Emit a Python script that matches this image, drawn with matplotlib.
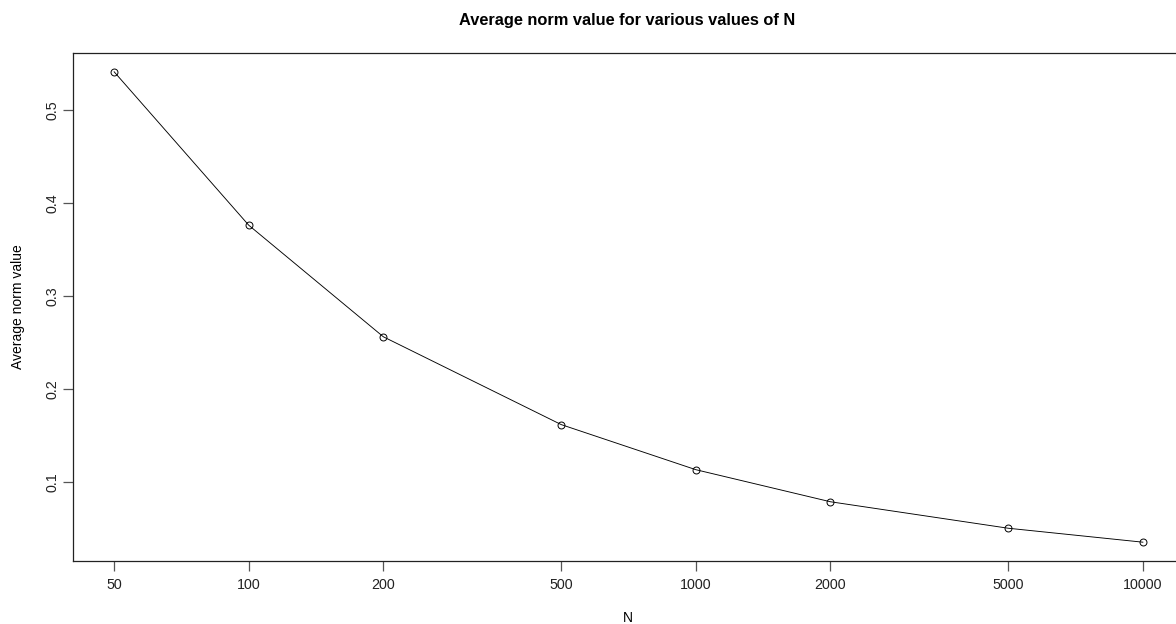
import numpy as np
import matplotlib

matplotlib.use("Agg")
import matplotlib.pyplot as plt

n_values = [50, 100, 200, 500, 1000, 2000, 5000, 10000]
avg_norm = [0.541, 0.376, 0.256, 0.1615, 0.113, 0.0785, 0.050, 0.035]
x_ticks = [50, 100, 200, 500, 1000, 2000, 5000, 10000]
y_ticks = [0.1, 0.2, 0.3, 0.4, 0.5]

plt.rcParams["font.family"] = ["Liberation Sans", "DejaVu Sans"]

W, H = 1176, 624
fig = plt.figure(figsize=(W / 100, H / 100), dpi=100)
left, right, top, bottom = 73, 1184, 53, 561
ax = fig.add_axes([left / W, 1 - bottom / H, (right - left) / W, (bottom - top) / H])

ax.plot(n_values, avg_norm, color="black", linewidth=0.65,
        marker="o", markersize=5, markerfacecolor="none",
        markeredgecolor="black", markeredgewidth=0.7)
ax.set_xscale("log")

# R-style 4% padding on both axes
lx = np.log10([min(n_values), max(n_values)])
px = 0.04 * (lx[1] - lx[0])
ax.set_xlim(10 ** (lx[0] - px), 10 ** (lx[1] + px))
py = 0.04 * (max(avg_norm) - min(avg_norm))
ax.set_ylim(min(avg_norm) - py, max(avg_norm) + py)

ax.set_xticks(x_ticks)
ax.set_xticklabels([str(v) for v in x_ticks])
ax.xaxis.set_minor_locator(matplotlib.ticker.NullLocator())
ax.set_yticks(y_ticks)
ax.set_yticklabels([f"{v:g}" for v in y_ticks], rotation=90, va="center")

ax.tick_params(axis="both", direction="out", length=7, width=0.9,
               color="#555555", labelsize=10.3, labelcolor="#222222")
ax.tick_params(axis="x", pad=5.5)
ax.tick_params(axis="y", pad=3)
for side in ax.spines.values():
    side.set_linewidth(0.9)
    side.set_color("#222222")

# axis titles placed like R's mtext lines
fig.text(628 / W, 1 - 618 / H, "N", ha="center", va="center", fontsize=10)
fig.text(18.5 / W, 1 - 307 / H, "Average norm value", ha="center", va="center",
         rotation=90, fontsize=10)
fig.text(627 / W, 1 - 20 / H, "Average norm value for various values of N",
         ha="center", va="center", fontsize=11.8, fontweight="bold")

fig.savefig("out.png", dpi=100)
